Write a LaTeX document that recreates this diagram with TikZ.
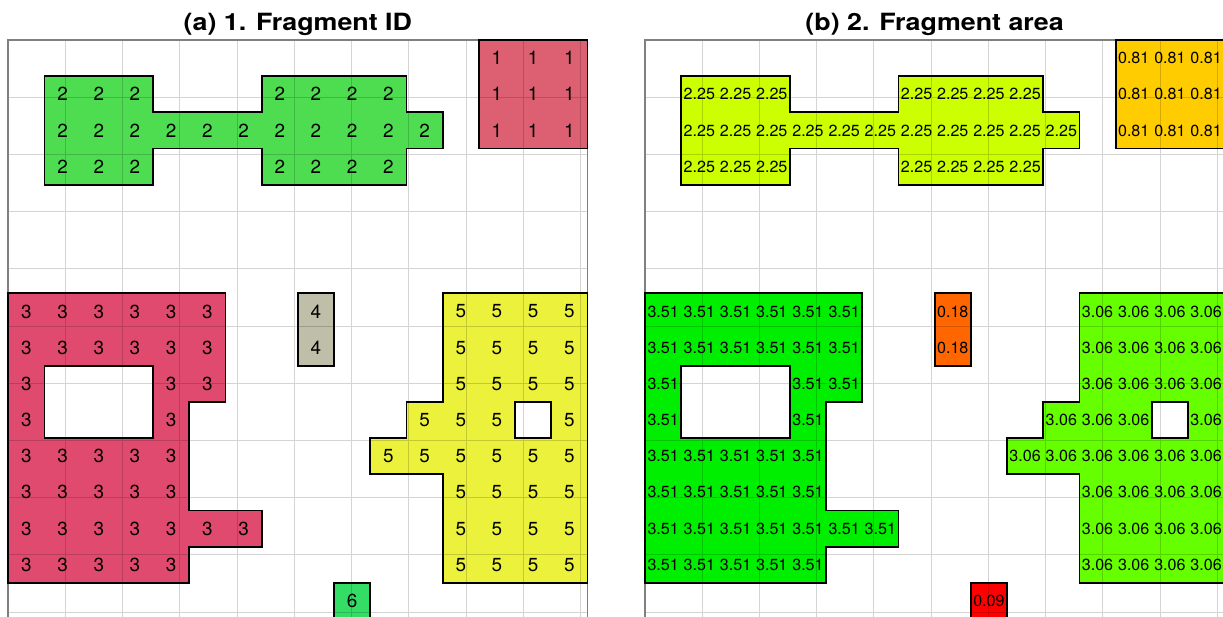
\documentclass[tikz,border=0pt]{standalone}
\usepackage{graphicx}
\usepackage{fontspec}
\setmainfont{TeX Gyre Heros}
\usetikzlibrary{positioning}
\definecolor{fragone}{RGB}{220,96,114}
\definecolor{fragtwo}{RGB}{78,221,80}
\definecolor{fragthree}{RGB}{224,74,110}
\definecolor{fragfour}{RGB}{191,190,168}
\definecolor{fragfive}{RGB}{236,242,60}
\definecolor{fragsix}{RGB}{51,221,102}
\definecolor{areaone}{RGB}{255,204,0}
\definecolor{areatwo}{RGB}{204,255,0}
\definecolor{areathree}{RGB}{0,238,0}
\definecolor{areafour}{RGB}{255,102,0}
\definecolor{areafive}{RGB}{102,255,0}
\definecolor{areasix}{RGB}{255,0,0}
\tikzstyle{gridline}=[draw=black, opacity=0.17, line width=0.5pt]
\tikzstyle{frame}=[draw=black!50, line width=0.9pt]
\tikzstyle{outline}=[draw=black, line width=0.9pt, line join=miter]
\tikzstyle{idnum}=[inner sep=0pt, font=\fontsize{9.4}{9.4}\selectfont]
\tikzstyle{areanum}=[inner sep=0pt, font=\fontsize{8}{8}\selectfont]
\tikzstyle{paneltitle}=[anchor=base, inner sep=0pt, font=\bfseries\fontsize{11.8}{11.8}\selectfont]

% fragment outlines, in cells (column, row)
\def\fragshapeone{(13,0) rectangle (16,3)}
\def\fragshapetwo{(1,1) -- (4,1) -- (4,2) -- (7,2) -- (7,1) -- (11,1) -- (11,2) -- (12,2) -- (12,3) -- (11,3) -- (11,4) -- (7,4) -- (7,3) -- (4,3) -- (4,4) -- (1,4) -- cycle}
\def\fragshapethree{(0,7) -- (6,7) -- (6,10) -- (5,10) -- (5,13) -- (7,13) -- (7,14) -- (5,14) -- (5,15) -- (0,15) -- cycle (1,9) rectangle (4,11)}
\def\fragshapefour{(8,7) rectangle (9,9)}
\def\fragshapefive{(12,7) -- (16,7) -- (16,15) -- (12,15) -- (12,12) -- (10,12) -- (10,11) -- (11,11) -- (11,10) -- (12,10) -- cycle (14,10) rectangle (15,11)}
\def\fragshapesix{(9,15) rectangle (10,16)}

% cells of each fragment, row/{columns}
\def\cellsone{0/{13,14,15},1/{13,14,15},2/{13,14,15}}
\def\cellstwo{1/{1,2,3,7,8,9,10},2/{1,...,11},3/{1,2,3,7,8,9,10}}
\def\cellsthree{7/{0,...,5},8/{0,...,5},9/{0,4,5},10/{0,4},11/{0,...,4},12/{0,...,4},13/{0,...,6},14/{0,...,4}}
\def\cellsfour{7/{8},8/{8}}
\def\cellsfive{7/{12,...,15},8/{12,...,15},9/{12,...,15},10/{11,12,13,15},11/{10,...,15},12/{12,...,15},13/{12,...,15},14/{12,...,15}}
\def\cellssix{15/{9}}

\newcommand{\fraglabels}[2]{\foreach \r/\cs in #1 {\foreach \c in \cs {\node at (\c+0.5,\r+0.5) {#2};}}}

\begin{document}
\begin{tikzpicture}[x=18pt, y=-18pt]
	\useasboundingbox (-0.23,-1.105) rectangle (33.56,15.94);

	% (a) fragment id
	\begin{scope}
		\fill[fragone] \fragshapeone;
		\fill[fragtwo] \fragshapetwo;
		\fill[fragthree, even odd rule] \fragshapethree;
		\fill[fragfour] \fragshapefour;
		\fill[fragfive, even odd rule] \fragshapefive;
		\fill[fragsix] \fragshapesix;
		\draw[gridline] (0,0) grid (16,16);
		\draw[frame] (0,0) rectangle (16,16);
		\draw[outline] \fragshapeone;
		\draw[outline] \fragshapetwo;
		\draw[outline] \fragshapethree;
		\draw[outline] \fragshapefour;
		\draw[outline] \fragshapefive;
		\draw[outline] \fragshapesix;
		\begin{scope}[every node/.style=idnum]
			\fraglabels{\cellsone}{1}
			\fraglabels{\cellstwo}{2}
			\fraglabels{\cellsthree}{3}
			\fraglabels{\cellsfour}{4}
			\fraglabels{\cellsfive}{5}
			\fraglabels{\cellssix}{6}
		\end{scope}
		\node(titlea)[paneltitle] at (8,-0.257) {\scalebox{1.13}[1]{(a) 1. Fragment ID}};
	\end{scope}

	% (b) fragment area
	\begin{scope}[shift={(17.593,0)}]
		\fill[areaone] \fragshapeone;
		\fill[areatwo] \fragshapetwo;
		\fill[areathree, even odd rule] \fragshapethree;
		\fill[areafour] \fragshapefour;
		\fill[areafive, even odd rule] \fragshapefive;
		\fill[areasix] \fragshapesix;
		\draw[gridline] (0,0) grid (16,16);
		\draw[frame] (0,0) rectangle (16,16);
		\draw[outline] \fragshapeone;
		\draw[outline] \fragshapetwo;
		\draw[outline] \fragshapethree;
		\draw[outline] \fragshapefour;
		\draw[outline] \fragshapefive;
		\draw[outline] \fragshapesix;
		\begin{scope}[every node/.style=areanum]
			\fraglabels{\cellsone}{0.81}
			\fraglabels{\cellstwo}{2.25}
			\fraglabels{\cellsthree}{3.51}
			\fraglabels{\cellsfour}{0.18}
			\fraglabels{\cellsfive}{3.06}
			\fraglabels{\cellssix}{0.09}
		\end{scope}
		\node(titleb)[paneltitle] at (8,-0.257) {\scalebox{1.13}[1]{(b) 2. Fragment area}};
	\end{scope}
\end{tikzpicture}
\end{document}
